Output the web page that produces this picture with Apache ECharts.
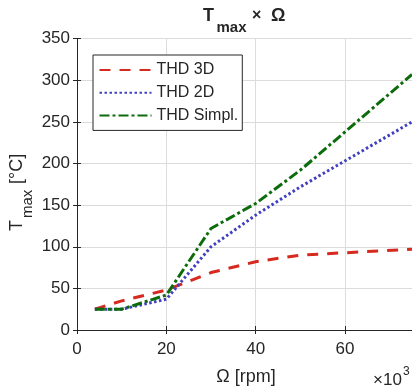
<!DOCTYPE html>
<html>
<head>
<meta charset="utf-8">
<script src="https://cdn.jsdelivr.net/npm/echarts@6/dist/echarts.min.js"></script>
<style>html,body{margin:0;padding:0;background:#fff;}#c{width:412px;height:390px;}</style>
</head>
<body>
<div id="c"></div>
<script>
// Data (x in thousands of rpm)
var rpm = [4, 10, 20, 30, 40, 50, 75];
var thd3D = [25, 35, 48, 69, 82, 90, 97];
var thd2D = [25, 25, 37, 100, 138, 172, 250];
var thdSimpl = [25, 25, 42, 122, 152, 192, 307];
var seriesNames = ['THD 3D', 'THD 2D', 'THD Simpl.'];
var yTicks = [0, 50, 100, 150, 200, 250, 300, 350];
var xTicks = [0, 20, 40, 60];

function pairs(xs, ys) { return xs.map(function (x, i) { return [x, ys[i]]; }); }

var FONT = 'Liberation Sans, Arial, Helvetica, sans-serif';
var INK = '#262626';
var chart = echarts.init(document.getElementById('c'), null, { renderer: 'canvas' });

var axisCommon = {
  axisLine: { show: true, lineStyle: { color: INK, width: 1 } },
  axisTick: { show: true, inside: true, length: 4, lineStyle: { color: INK } }
};

chart.setOption({
  animation: false,
  backgroundColor: '#fff',
  grid: { left: 77, right: -2.8, top: 38.7, bottom: 60, containLabel: false },
  xAxis: [
    Object.assign({}, axisCommon, {
      type: 'value', min: 0, max: 75, interval: 20, position: 'bottom',
      axisLabel: { fontSize: 17, color: INK, fontFamily: FONT, margin: 11, showMaxLabel: false,
        formatter: function (v) { return xTicks.indexOf(v) >= 0 ? String(v) : ''; } },
      splitLine: { show: true, lineStyle: { color: '#dcdcdc', width: 1 } }
    }),
    Object.assign({}, axisCommon, {
      type: 'value', min: 0, max: 75, interval: 20, position: 'top',
      axisLabel: { show: false }, splitLine: { show: false }
    })
  ],
  yAxis: [
    Object.assign({}, axisCommon, {
      type: 'value', min: 0, max: 350, interval: 50, position: 'left',
      axisLabel: { fontSize: 17, color: INK, fontFamily: FONT, margin: 7,
        formatter: function (v) { return yTicks.indexOf(v) >= 0 ? String(v) : ''; } },
      splitLine: { show: true, lineStyle: { color: '#dcdcdc', width: 1 } }
    }),
    Object.assign({}, axisCommon, {
      type: 'value', min: 0, max: 350, interval: 50, position: 'right',
      axisLabel: { show: false }, splitLine: { show: false }
    })
  ],
  legend: {
    orient: 'vertical', left: 93, top: 55,
    padding: [7, 4, 7, 5.5],
    itemWidth: 52, itemHeight: 14, itemGap: 6.7,
    borderColor: INK, borderWidth: 1, backgroundColor: '#fff',
    itemStyle: { opacity: 0 },
    textStyle: { fontSize: 16, color: INK, fontFamily: FONT },
    data: seriesNames
  },
  series: [
    { name: seriesNames[0], type: 'line', data: pairs(rpm, thd3D), symbol: 'none', z: 3,
      lineStyle: { color: '#d62a20', width: 3, type: [11, 9], cap: 'butt' }, itemStyle: { color: '#d62a20' } },
    { name: seriesNames[1], type: 'line', data: pairs(rpm, thd2D), symbol: 'none', z: 4,
      lineStyle: { color: '#4040c0', width: 3, type: [2.5, 2.5], cap: 'butt' }, itemStyle: { color: '#4040c0' } },
    { name: seriesNames[2], type: 'line', data: pairs(rpm, thdSimpl), symbol: 'none', z: 5,
      lineStyle: { color: '#0c6c0c', width: 3, type: [10, 3, 3, 3], cap: 'butt' }, itemStyle: { color: '#0c6c0c' } }
  ],
  graphic: [
    // title
    { type: 'text', x: 203, y: 16.2, style: { text: 'T', font: 'bold 18px ' + FONT, fill: INK, verticalAlign: 'middle', align: 'left' } },
    { type: 'text', x: 216.5, y: 27.5, style: { text: 'max', font: 'bold 15px ' + FONT, fill: INK, verticalAlign: 'middle', align: 'left' } },
    { type: 'text', x: 252, y: 15.5, style: { text: '×', font: 'bold 16px ' + FONT, fill: INK, verticalAlign: 'middle', align: 'left' } },
    { type: 'text', x: 271, y: 16, style: { text: 'Ω', font: 'bold 18px ' + FONT, fill: INK, verticalAlign: 'middle', align: 'left' } },
    // x axis label
    { type: 'text', x: 246, y: 377, style: { text: 'Ω [rpm]', font: '18px ' + FONT, fill: INK, verticalAlign: 'middle', align: 'center' } },
    { type: 'text', x: 373, y: 380, style: { text: '×10', font: '17px ' + FONT, fill: INK, verticalAlign: 'middle', align: 'left' } },
    { type: 'text', x: 403, y: 372, style: { text: '3', font: '12px ' + FONT, fill: INK, verticalAlign: 'middle', align: 'left' } },
    // y axis label (rotated)
    { type: 'group', x: 17.5, y: 231, rotation: Math.PI / 2, children: [
      { type: 'text', x: 0, y: 0, style: { text: 'T', font: '18px ' + FONT, fill: INK, verticalAlign: 'middle', align: 'left' } },
      { type: 'text', x: 13, y: 10.5, style: { text: 'max', font: '15px ' + FONT, fill: INK, verticalAlign: 'middle', align: 'left' } },
      { type: 'text', x: 42, y: 0, style: { text: ' [°C]', font: '18px ' + FONT, fill: INK, verticalAlign: 'middle', align: 'left' } }
    ] }
  ]
});
</script>
</body>
</html>
